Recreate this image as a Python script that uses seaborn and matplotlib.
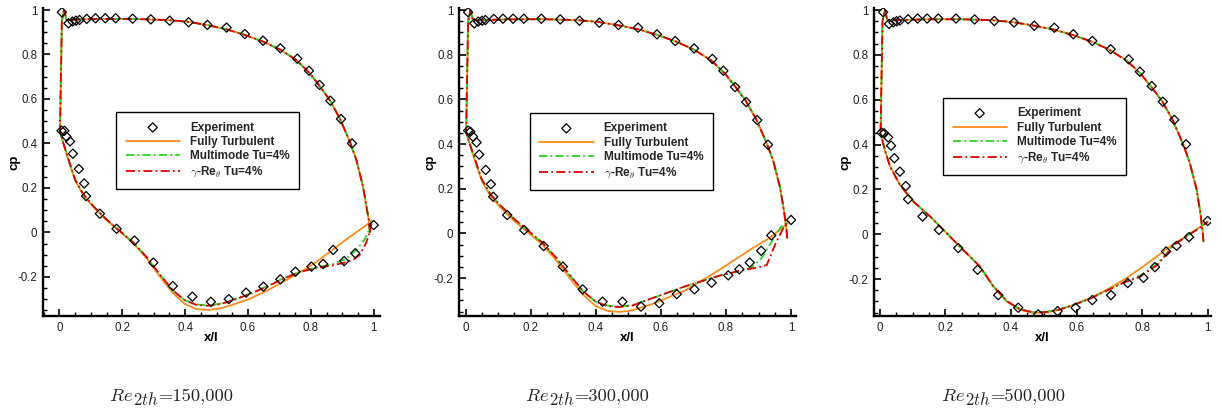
import matplotlib
matplotlib.use("Agg")
import matplotlib.pyplot as plt
import seaborn as sns
import pandas as pd
from matplotlib.ticker import MultipleLocator, FormatStrFormatter

# ---------------- data ----------------
captions = ["=150,000", "=300,000", "=500,000"]
series_labels = ["Experiment", "Fully Turbulent", "Multimode Tu=4%", r"$\gamma$-Re$_\theta$ Tu=4%"]

# experiment (pressure side then suction side)
exp1_x = [0.008, 0.029, 0.042, 0.053, 0.064, 0.087, 0.115, 0.146, 0.179, 0.233, 0.291, 0.351, 0.411, 0.471, 0.532,
          0.590, 0.648, 0.703, 0.757, 0.794, 0.828, 0.862, 0.896, 0.931, 1.0,
          0.007, 0.016, 0.023, 0.034, 0.043, 0.062, 0.079, 0.085, 0.129, 0.182, 0.239, 0.299, 0.361, 0.423, 0.482,
          0.539, 0.594, 0.649, 0.703, 0.751, 0.802, 0.839, 0.871, 0.906, 0.941]
exp1_cp = [0.99, 0.94, 0.948, 0.952, 0.955, 0.96, 0.963, 0.963, 0.963, 0.961, 0.958, 0.952, 0.945, 0.933, 0.921,
           0.892, 0.862, 0.828, 0.781, 0.727, 0.663, 0.592, 0.510, 0.400, 0.033,
           0.457, 0.457, 0.43, 0.409, 0.354, 0.285, 0.22, 0.163, 0.084, 0.016, -0.037, -0.136, -0.241, -0.289, -0.312,
           -0.300, -0.271, -0.244, -0.211, -0.177, -0.154, -0.142, -0.079, -0.129, -0.094]

exp2_x = [0.008, 0.027, 0.039, 0.051, 0.061, 0.087, 0.115, 0.146, 0.179, 0.233, 0.291, 0.35, 0.411, 0.47, 0.53,
          0.588, 0.644, 0.702, 0.758, 0.792, 0.828, 0.862, 0.896, 0.929, 1.0,
          0.008, 0.015, 0.023, 0.034, 0.042, 0.062, 0.078, 0.085, 0.128, 0.18, 0.24, 0.299, 0.36, 0.421, 0.482,
          0.539, 0.595, 0.649, 0.703, 0.756, 0.807, 0.841, 0.873, 0.908, 0.939]
exp2_cp = [0.99, 0.94, 0.948, 0.952, 0.955, 0.96, 0.961, 0.961, 0.961, 0.961, 0.958, 0.952, 0.943, 0.933, 0.921,
           0.891, 0.861, 0.828, 0.781, 0.728, 0.655, 0.588, 0.507, 0.397, 0.06,
           0.46, 0.455, 0.433, 0.407, 0.353, 0.284, 0.22, 0.164, 0.082, 0.015, -0.057, -0.149, -0.251, -0.306, -0.306,
           -0.328, -0.313, -0.272, -0.251, -0.221, -0.188, -0.161, -0.131, -0.078, -0.009]

exp3_x = [0.01, 0.028, 0.041, 0.051, 0.061, 0.086, 0.115, 0.144, 0.178, 0.232, 0.289, 0.349, 0.409, 0.471, 0.532,
          0.59, 0.648, 0.704, 0.759, 0.793, 0.829, 0.863, 0.898, 0.934, 1.0,
          0.005, 0.013, 0.025, 0.034, 0.044, 0.061, 0.079, 0.086, 0.13, 0.18, 0.239, 0.298, 0.361, 0.422, 0.483,
          0.542, 0.597, 0.648, 0.705, 0.756, 0.804, 0.839, 0.873, 0.905, 0.943]
exp3_cp = [0.99, 0.938, 0.945, 0.95, 0.953, 0.959, 0.962, 0.962, 0.962, 0.962, 0.958, 0.951, 0.944, 0.93, 0.921,
           0.892, 0.862, 0.825, 0.78, 0.725, 0.661, 0.591, 0.51, 0.401, 0.059,
           0.453, 0.45, 0.432, 0.395, 0.339, 0.279, 0.215, 0.156, 0.079, 0.019, -0.062, -0.159, -0.272, -0.328, -0.358,
           -0.343, -0.328, -0.294, -0.272, -0.218, -0.195, -0.147, -0.077, -0.052, -0.013]

# computed pressure side (leading edge -> trailing edge), shared by the three models
up1_x = [0.008, 0.015, 0.023, 0.076, 0.129, 0.235, 0.341, 0.405, 0.468, 0.532, 0.59, 0.648, 0.701, 0.754, 0.797,
         0.828, 0.86, 0.892, 0.924, 0.945, 0.966, 0.977, 0.985, 0.988]
up1_cp = [0.95, 1.0, 0.955, 0.958, 0.96, 0.96, 0.955, 0.948, 0.933, 0.913, 0.888, 0.858, 0.823, 0.775, 0.715,
          0.658, 0.595, 0.513, 0.408, 0.325, 0.205, 0.115, 0.05, 0.0]
up2_x = [0.008, 0.015, 0.023, 0.076, 0.129, 0.235, 0.341, 0.405, 0.468, 0.532, 0.59, 0.648, 0.701, 0.754, 0.797,
         0.828, 0.86, 0.892, 0.924, 0.945, 0.966, 0.977, 0.985, 0.988]
up2_cp = [0.95, 1.0, 0.953, 0.956, 0.958, 0.959, 0.955, 0.947, 0.932, 0.913, 0.888, 0.858, 0.823, 0.775, 0.715,
          0.658, 0.595, 0.513, 0.408, 0.325, 0.205, 0.11, 0.03, -0.022]
up3_x = [0.008, 0.015, 0.023, 0.076, 0.129, 0.235, 0.341, 0.405, 0.468, 0.532, 0.59, 0.648, 0.701, 0.754, 0.797,
         0.828, 0.86, 0.892, 0.924, 0.945, 0.966, 0.977, 0.984, 0.987]
up3_cp = [0.95, 1.0, 0.953, 0.956, 0.958, 0.959, 0.955, 0.946, 0.931, 0.912, 0.888, 0.858, 0.822, 0.773, 0.713,
          0.657, 0.595, 0.513, 0.405, 0.32, 0.2, 0.1, 0.02, -0.033]

# computed suction side (leading edge -> trailing edge)
ft1_x = [0.002, 0.013, 0.029, 0.05, 0.076, 0.108, 0.15, 0.193, 0.235, 0.278, 0.32, 0.362, 0.399, 0.436, 0.474,
         0.511, 0.553, 0.606, 0.659, 0.712, 0.765, 0.818, 0.871, 0.924, 0.977, 0.993]
ft1_cp = [0.453, 0.40, 0.325, 0.235, 0.168, 0.115, 0.055, 0.003, -0.049, -0.117, -0.199, -0.274, -0.322, -0.345,
          -0.349, -0.342, -0.325, -0.298, -0.263, -0.222, -0.18, -0.133, -0.076, -0.02, 0.033, 0.055]
mm1_x = [0.002, 0.013, 0.029, 0.05, 0.076, 0.108, 0.15, 0.193, 0.235, 0.278, 0.32, 0.362, 0.399, 0.436, 0.474,
         0.511, 0.553, 0.606, 0.659, 0.712, 0.765, 0.818, 0.871, 0.91, 0.945, 0.97, 0.985, 0.993]
mm1_cp = [0.453, 0.40, 0.328, 0.238, 0.172, 0.118, 0.058, 0.006, -0.045, -0.112, -0.19, -0.262, -0.305, -0.324,
          -0.328, -0.321, -0.303, -0.275, -0.243, -0.207, -0.177, -0.158, -0.142, -0.12, -0.079, -0.034, 0.01, 0.048]
gr1_x = [0.002, 0.013, 0.029, 0.05, 0.076, 0.108, 0.15, 0.193, 0.235, 0.278, 0.32, 0.362, 0.399, 0.436, 0.474,
         0.511, 0.553, 0.606, 0.659, 0.712, 0.765, 0.818, 0.871, 0.91, 0.934, 0.955, 0.975, 0.987, 0.993]
gr1_cp = [0.453, 0.40, 0.328, 0.238, 0.172, 0.118, 0.058, 0.006, -0.045, -0.112, -0.19, -0.262, -0.305, -0.326,
          -0.33, -0.323, -0.305, -0.277, -0.245, -0.209, -0.178, -0.16, -0.148, -0.135, -0.124, -0.102, -0.05, 0.0,
          0.04]

ft2_x = [0.002, 0.013, 0.029, 0.05, 0.076, 0.108, 0.15, 0.193, 0.235, 0.278, 0.32, 0.362, 0.399, 0.436, 0.472,
         0.511, 0.574, 0.677, 0.779, 0.881, 0.932, 0.978, 0.993]
ft2_cp = [0.453, 0.40, 0.325, 0.235, 0.168, 0.115, 0.055, 0.003, -0.049, -0.12, -0.2, -0.276, -0.325, -0.347,
          -0.352, -0.345, -0.316, -0.254, -0.164, -0.067, -0.022, 0.03, 0.052]
mm2_x = [0.002, 0.013, 0.029, 0.05, 0.076, 0.108, 0.15, 0.193, 0.235, 0.278, 0.32, 0.362, 0.399, 0.436, 0.47,
         0.511, 0.574, 0.677, 0.779, 0.84, 0.877, 0.91, 0.947, 0.968, 0.993]
mm2_cp = [0.453, 0.40, 0.33, 0.24, 0.175, 0.122, 0.062, 0.01, -0.042, -0.11, -0.188, -0.262, -0.305, -0.323,
          -0.328, -0.322, -0.29, -0.236, -0.19, -0.17, -0.155, -0.11, -0.021, 0.028, 0.05]
gr2_x = [0.002, 0.013, 0.029, 0.05, 0.076, 0.108, 0.15, 0.193, 0.235, 0.278, 0.32, 0.362, 0.399, 0.436, 0.47,
         0.511, 0.574, 0.677, 0.779, 0.84, 0.9, 0.925, 0.953, 0.984, 0.993]
gr2_cp = [0.453, 0.40, 0.332, 0.242, 0.177, 0.124, 0.064, 0.012, -0.04, -0.108, -0.186, -0.26, -0.305, -0.326,
          -0.33, -0.324, -0.29, -0.236, -0.19, -0.168, -0.152, -0.142, -0.043, 0.046, 0.055]

ft3_x = [0.002, 0.015, 0.031, 0.061, 0.102, 0.153, 0.204, 0.254, 0.305, 0.346, 0.387, 0.427, 0.468, 0.509, 0.549,
         0.59, 0.641, 0.692, 0.743, 0.793, 0.844, 0.895, 0.946, 0.987, 1.0]
ft3_cp = [0.45, 0.376, 0.302, 0.22, 0.146, 0.079, 0.004, -0.07, -0.144, -0.233, -0.3, -0.337, -0.352, -0.349,
          -0.337, -0.315, -0.285, -0.248, -0.204, -0.155, -0.1, -0.045, 0.002, 0.042, 0.056]
mm3_x = [0.002, 0.015, 0.031, 0.061, 0.102, 0.153, 0.204, 0.254, 0.305, 0.346, 0.387, 0.427, 0.468, 0.509, 0.549,
         0.59, 0.641, 0.692, 0.743, 0.793, 0.844, 0.875, 0.895, 0.946, 0.987, 1.0]
mm3_cp = [0.45, 0.376, 0.302, 0.22, 0.146, 0.079, 0.004, -0.07, -0.144, -0.233, -0.298, -0.334, -0.348, -0.346,
          -0.335, -0.315, -0.287, -0.25, -0.215, -0.185, -0.135, -0.085, -0.048, 0.002, 0.042, 0.056]
gr3_x = [0.002, 0.015, 0.031, 0.061, 0.102, 0.153, 0.204, 0.254, 0.305, 0.346, 0.387, 0.427, 0.468, 0.509, 0.549,
         0.59, 0.641, 0.692, 0.743, 0.793, 0.844, 0.875, 0.895, 0.946, 0.987, 1.0]
gr3_cp = [0.45, 0.376, 0.302, 0.22, 0.146, 0.079, 0.004, -0.07, -0.144, -0.233, -0.298, -0.335, -0.349, -0.347,
          -0.336, -0.316, -0.288, -0.252, -0.217, -0.19, -0.14, -0.09, -0.05, 0.0, 0.04, 0.056]

# axis extents per panel
xlims = [(-0.052, 1.02), (-0.02, 1.015), (-0.018, 1.01)]
ylims = [(-0.376, 1.009), (-0.37, 1.009), (-0.365, 1.009)]

# ---------------- style ----------------
sns.set_theme(style="white")
plt.rcParams["font.family"] = ["Liberation Sans", "DejaVu Sans"]
plt.rcParams["mathtext.fontset"] = "cm"

C_ORANGE = "#FF8C1A"
C_GREEN = "#22D622"
C_RED = "#E00000"

W, H = 1221, 412
fig = plt.figure(figsize=(W / 100, H / 100), dpi=100)
lefts = [43 / W, 459 / W, 874 / W]
width = 337 / W
bottom = 1 - 316 / H
height = 308 / H
leg_anchor = [(0.217, 0.662), (0.210, 0.659), (0.205, 0.708)]
cap_x = [173, 589, 1005]

panels = [
    (exp1_x, exp1_cp, up1_x, up1_cp, ft1_x, ft1_cp, mm1_x, mm1_cp, gr1_x, gr1_cp),
    (exp2_x, exp2_cp, up2_x, up2_cp, ft2_x, ft2_cp, mm2_x, mm2_cp, gr2_x, gr2_cp),
    (exp3_x, exp3_cp, up3_x, up3_cp, ft3_x, ft3_cp, mm3_x, mm3_cp, gr3_x, gr3_cp),
]


def loop(ux, ucp, lx, lcp):
    # trailing edge (pressure side) -> leading edge -> trailing edge (suction side)
    return pd.DataFrame({"x": list(ux[::-1]) + list(lx), "cp": list(ucp[::-1]) + list(lcp)})


for i, (ex, ecp, ux, ucp, fx, fcp, mx, mcp, gx, gcp) in enumerate(panels):
    ax = fig.add_axes([lefts[i], bottom, width, height])
    sns.lineplot(data=loop(ux, ucp, fx, fcp), x="x", y="cp", sort=False, estimator=None, ax=ax,
                 color=C_ORANGE, lw=1.3, label=series_labels[1], zorder=2)
    sns.lineplot(data=loop(ux, ucp, mx, mcp), x="x", y="cp", sort=False, estimator=None, ax=ax,
                 color=C_GREEN, lw=1.3, linestyle=(0, (4.5, 1.8, 1.0, 1.8)), label=series_labels[2], zorder=3)
    sns.lineplot(data=loop(ux, ucp, gx, gcp), x="x", y="cp", sort=False, estimator=None, ax=ax,
                 color=C_RED, lw=1.3, linestyle=(0, (5.0, 1.8, 1.0, 1.8)), label=series_labels[3], zorder=4)
    sns.scatterplot(x=ex, y=ecp, ax=ax, marker="D", s=22, facecolor="none", edgecolor="black",
                    linewidth=0.9, label=series_labels[0], zorder=5)

    ax.set_xlim(*xlims[i])
    ax.set_ylim(*ylims[i])
    ax.xaxis.set_major_locator(MultipleLocator(0.2))
    ax.xaxis.set_minor_locator(MultipleLocator(0.05))
    ax.yaxis.set_major_locator(MultipleLocator(0.2))
    ax.yaxis.set_minor_locator(MultipleLocator(0.05))
    ax.xaxis.set_major_formatter(FormatStrFormatter("%g"))
    ax.yaxis.set_major_formatter(FormatStrFormatter("%g"))
    ax.tick_params(which="both", direction="in", bottom=True, left=True, top=False, right=False,
                   colors="black", labelsize=8.3, labelcolor="#222222")
    ax.tick_params(which="major", length=5, width=1.2, pad=4)
    ax.tick_params(which="minor", length=3, width=1.0)
    sns.despine(ax=ax)
    for s in ("left", "bottom"):
        ax.spines[s].set_linewidth(1.7)
        ax.spines[s].set_color("black")
    ax.grid(False)

    ax.set_xlabel("x/l", fontsize=9.5, fontweight="bold", color="black")
    ax.set_ylabel("cp", fontsize=9.5, fontweight="bold", color="black")
    ax.xaxis.set_label_coords(0.5, -0.052)
    ax.xaxis.label.set_va("top")
    ax.yaxis.set_label_coords(-0.068, 0.5)

    h, l = ax.get_legend_handles_labels()
    hd = dict(zip(l, h))
    leg = ax.legend([hd[k] for k in series_labels], series_labels, loc="upper left",
                    bbox_to_anchor=leg_anchor[i], borderaxespad=0, frameon=True, fancybox=False,
                    edgecolor="black", framealpha=1, handlelength=4.6, handletextpad=0.85,
                    labelspacing=0.2, borderpad=0.8, prop={"weight": "bold", "size": 8.5})
    leg.get_frame().set_linewidth(1.0)

    # caption: Re_{2th}=...
    split = cap_x[i] - 40
    fig.text(split / W, 1 - 401 / H, r"$Re$", ha="right", va="baseline", fontsize=13.3)
    fig.text(split / W, 1 - 405 / H, r"$2th$", ha="left", va="baseline", fontsize=12)
    fig.text((cap_x[i] - 14) / W, 1 - 401 / H, captions[i], ha="left", va="baseline",
             fontsize=13.3, family="cmr10")

fig.savefig("out.png", dpi=100)
